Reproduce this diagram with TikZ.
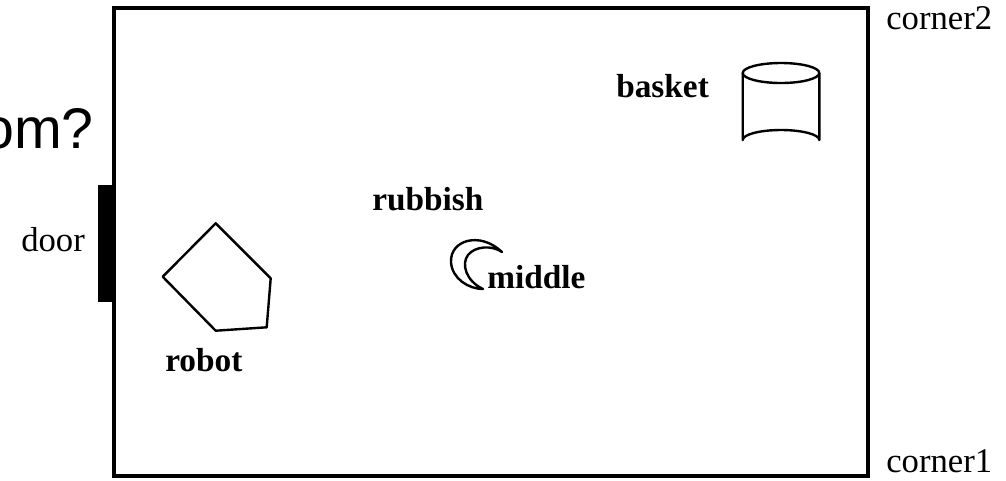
\documentclass[tikz,border=0pt]{standalone}
\usepackage{fontspec}
\setmainfont{Liberation Serif}
\newfontfamily\arialfont{Liberation Sans}
\begin{document}
\begin{tikzpicture}[x=0.75pt,y=-0.75pt,
  lbl/.style={anchor=base west,inner sep=0pt,font=\fontsize{25}{28}\selectfont\bfseries},
  lblr/.style={anchor=base west,inner sep=0pt,font=\fontsize{26}{29}\selectfont},
  room/.style={draw=black,line width=2.3pt},
  shp/.style={draw=black,line width=1.8pt,line join=round}]
\useasboundingbox (0,0) rectangle (1006,480);
\clip (0,0) rectangle (1006,480);
% partial title
\node[anchor=base east,inner sep=0pt,font=\arialfont\fontsize{43}{48}\selectfont] (title) at (94,148) {om?};
% room
\draw[room] (114,8) rectangle (868,476);
% door
\fill[black] (98,185) rectangle (114,302);
\node[lblr] (door) at (21,251) {door};
% robot
\draw[shp] (215.7,223.3) -- (270.7,278.3) -- (266.7,327.3) -- (215.7,330.7) -- (162.7,276.7) -- cycle;
\node[lbl] (robot) at (165,371) {robot};
% rubbish (crescent)
\draw[shp] (502,252) .. controls (480,231) and (450,240) .. (451,262)
  .. controls (452,279) and (469,289) .. (483,289)
  .. controls (466,281) and (461,264) .. (468,255)
  .. controls (475,246) and (492,245) .. (502,252) -- cycle;
\node[lbl] (rubbish) at (372,210) {rubbish};
\node[lbl] (middle) at (487,288) {middle};
% basket (cylinder)
\draw[shp] (781,73) ellipse [x radius=38.3, y radius=10];
\draw[shp] (742.7,73) -- (742.7,140) arc[start angle=180,end angle=360,x radius=38.3,y radius=10] -- (819.3,73);
\node[lbl] (basket) at (616,97) {basket};
% corners
\node[lblr] (corner2) at (886,29) {corner2};
\node[lblr] (corner1) at (886,472) {corner1};
\end{tikzpicture}
\end{document}
